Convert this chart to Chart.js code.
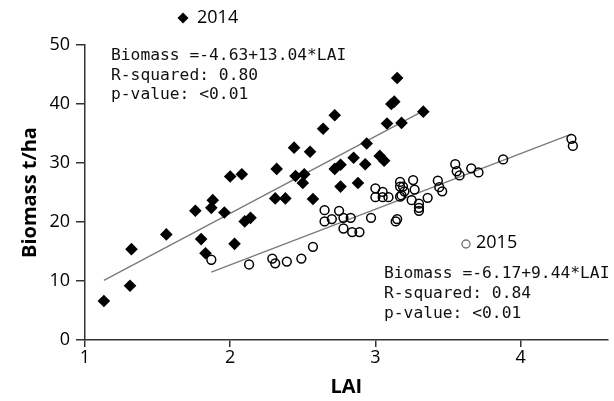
<!DOCTYPE html>
<html>
<head>
<meta charset="utf-8">
<script src="https://cdn.jsdelivr.net/npm/chart.js@4/dist/chart.umd.min.js"></script>
<style>
  html, body { margin: 0; padding: 0; background: #fff; }
  #wrap { width: 614px; height: 401px; position: relative; }
</style>
</head>
<body>
<div id="wrap"><canvas id="c" width="614" height="401"></canvas></div>
<script>
// ---- data ----
const lai2014 = [1.13, 1.31, 1.32, 1.56, 1.76, 1.80, 1.83, 1.87, 1.88, 1.96, 2.00, 2.03, 2.08, 2.10, 2.14,
  2.31, 2.32, 2.38, 2.44, 2.45, 2.50, 2.51, 2.55, 2.57, 2.64, 2.72, 2.72, 2.76, 2.76, 2.85, 2.88,
  2.93, 2.94, 3.03, 3.06, 3.08, 3.11, 3.13, 3.15, 3.18, 3.33];
const biomass2014 = [6.6, 9.2, 15.4, 17.9, 21.9, 17.1, 14.7, 22.4, 23.7, 21.6, 27.7, 16.3, 28.1, 20.1, 20.7,
  24.0, 29.0, 24.0, 32.6, 27.8, 26.6, 28.1, 31.9, 23.9, 35.8, 38.1, 29.0, 29.7, 26.0, 30.9, 26.6,
  29.8, 33.3, 31.2, 30.4, 36.7, 40.0, 40.4, 44.4, 36.8, 38.7];

const lai2015 = [1.87, 2.13, 2.29, 2.31, 2.39, 2.49, 2.57, 2.65, 2.65, 2.70, 2.75, 2.78, 2.78, 2.83, 2.84,
  2.89, 2.97, 3.00, 3.00, 3.05, 3.05, 3.09, 3.14, 3.15, 3.17, 3.17, 3.17, 3.18, 3.19, 3.20, 3.25,
  3.26, 3.27, 3.30, 3.30, 3.30, 3.36, 3.43, 3.44, 3.46, 3.55, 3.56, 3.58, 3.66, 3.71, 3.88, 4.35, 4.36];
const biomass2015 = [13.6, 12.8, 13.8, 13.0, 13.3, 13.8, 15.8, 22.0, 20.1, 20.5, 21.9, 20.7, 18.9, 20.7, 18.3,
  18.3, 20.7, 25.7, 24.2, 25.1, 24.2, 24.2, 20.1, 20.5, 26.8, 26.0, 24.3, 24.5, 26.0, 25.2, 23.7,
  27.1, 25.5, 23.1, 22.4, 21.9, 24.1, 27.0, 25.9, 25.2, 29.8, 28.6, 27.9, 29.1, 28.4, 30.6, 34.1, 32.9];

// fitted line end points as drawn in the picture
const fitLai2014 = [1.13, 3.35];
const fitBiomass2014 = [10.1, 39.1];
const fitLai2015 = [1.87, 4.35];
const fitBiomass2015 = [11.5, 34.9];

const xTicks = [1, 2, 3, 4];
const yTicks = [0, 10, 20, 30, 40, 50];

const labels2014 = ["Biomass =-4.63+13.04*LAI", "R-squared: 0.80", "p-value: <0.01"];
const labels2015 = ["Biomass =-6.17+9.44*LAI", "R-squared: 0.84", "p-value: <0.01"];
const year2014 = "2014";
const year2015 = "2015";

const toPts = (xs, ys) => xs.map((x, i) => ({ x: x, y: ys[i] }));

const annot = {
  id: 'annot',
  afterDatasetsDraw(chart) {
    const ctx = chart.ctx;
    ctx.save();
    // equation blocks
    ctx.fillStyle = '#111';
    ctx.font = '16.3px "DejaVu Sans Mono"';
    ctx.textBaseline = 'middle';
    ctx.textAlign = 'left';
    labels2014.forEach((t, i) => ctx.fillText(t, 111, 56 + i * 19.6));
    labels2015.forEach((t, i) => ctx.fillText(t, 384, 274 + i * 19.8));
    // legend-like year labels
    ctx.font = '18px "Open Sans"';
    ctx.fillStyle = '#000';
    ctx.fillText(year2014, 197, 18);
    ctx.fillText(year2015, 476, 243);
    // diamond marker
    ctx.beginPath();
    ctx.moveTo(183, 12.5); ctx.lineTo(188.5, 18); ctx.lineTo(183, 23.5); ctx.lineTo(177.5, 18);
    ctx.closePath();
    ctx.fill();
    // circle marker
    ctx.beginPath();
    ctx.arc(466, 244, 4, 0, Math.PI * 2);
    ctx.strokeStyle = '#777';
    ctx.lineWidth = 1.4;
    ctx.stroke();
    ctx.restore();
  }
};

new Chart(document.getElementById('c'), {
  type: 'scatter',
  data: {
    datasets: [
      {
        label: '2014',
        data: toPts(lai2014, biomass2014),
        pointStyle: 'rectRot',
        pointRadius: 6.3,
        backgroundColor: '#000',
        borderColor: '#000',
        borderWidth: 0,
        order: 1
      },
      {
        label: '2015',
        data: toPts(lai2015, biomass2015),
        pointStyle: 'circle',
        pointRadius: 4.4,
        backgroundColor: 'rgba(0,0,0,0)',
        borderColor: '#000',
        borderWidth: 1.5,
        order: 2
      },
      {
        type: 'line',
        label: 'fit2014',
        data: toPts(fitLai2014, fitBiomass2014),
        borderColor: '#7a7a7a',
        borderWidth: 1.4,
        pointRadius: 0,
        fill: false,
        order: 3
      },
      {
        type: 'line',
        label: 'fit2015',
        data: toPts(fitLai2015, fitBiomass2015),
        borderColor: '#7a7a7a',
        borderWidth: 1.4,
        pointRadius: 0,
        fill: false,
        order: 4
      }
    ]
  },
  options: {
    responsive: false,
    animation: false,
    devicePixelRatio: 1,
    layout: { padding: { top: 45, right: 0, bottom: 0, left: 0 } },
    plugins: { legend: { display: false }, tooltip: { enabled: false } },
    scales: {
      x: {
        type: 'linear',
        min: 1,
        max: 4.6,
        afterFit(s) { s.height = 61; },
        afterBuildTicks(s) { s.ticks = xTicks.map(v => ({ value: v })); },
        ticks: { color: '#000', font: { family: 'Open Sans', size: 18 }, padding: 0, maxRotation: 0 },
        grid: { drawOnChartArea: false, drawTicks: true, tickLength: 7, color: '#333', lineWidth: 1.5 },
        border: { display: true, color: '#333', width: 1.5 },
        title: { display: true, text: 'LAI', color: '#000', font: { family: 'Open Sans', size: 20, weight: 'bold' }, padding: { top: 0, bottom: 2 } }
      },
      y: {
        type: 'linear',
        min: 0,
        max: 50,
        afterFit(s) { s.width = 85; },
        afterBuildTicks(s) { s.ticks = yTicks.map(v => ({ value: v })); },
        ticks: { color: '#000', font: { family: 'Open Sans', size: 18 }, padding: 6 },
        grid: { drawOnChartArea: false, drawTicks: true, tickLength: 9, color: '#333', lineWidth: 1.5 },
        border: { display: true, color: '#333', width: 1.5 },
        title: { display: true, text: 'Biomass t/ha', color: '#000', font: { family: 'Open Sans', size: 20, weight: 'bold' }, padding: { top: 18, bottom: 0 } }
      }
    }
  },
  plugins: [annot]
});
</script>
</body>
</html>
